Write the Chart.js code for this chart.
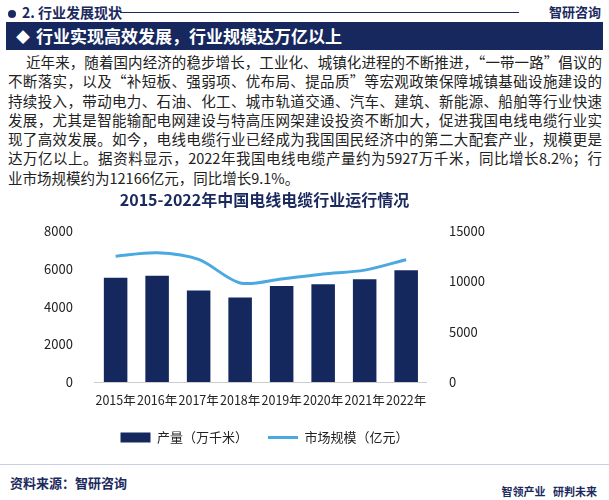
<!DOCTYPE html>
<html>
<head>
<meta charset="utf-8">
<script src="https://cdn.jsdelivr.net/npm/chart.js@4"></script>
<style>
  body { margin: 0; width: 609px; height: 500px; background: #fff; font-family: "Noto Sans CJK SC", sans-serif; position: relative; overflow: hidden; }
  .top { position: absolute; left: 8px; top: 2px; font-size: 14px; color: #1b2a5e; font-weight: bold; }
  .top:before { content: ''; display: inline-block; width: 8px; height: 8px; border-radius: 50%; background: #1b2a5e; margin-right: 6px; }
  .rule { position: absolute; left: 120px; right: 90px; top: 12px; border-top: 1px solid #1b2a5e; }
  .brand { position: absolute; right: 8px; top: 2px; font-size: 13px; color: #1b2a5e; font-weight: bold; }
  .bar { position: absolute; left: 6px; right: 6px; top: 22px; height: 28px; background: #16285e; color: #fff; font-size: 17px; font-weight: bold; line-height: 28px; padding-left: 30px; box-sizing: border-box; }
  .bar:before { content: '◆'; position: absolute; left: 10px; font-size: 14px; }
  .text { position: absolute; left: 8px; width: 594px; top: 52px; font-size: 14.5px; line-height: 19.3px; color: #222; }
  .text div { text-align: justify; text-align-last: justify; white-space: nowrap; }
  .text div.last { text-align-last: left; }
  .chart { position: absolute; left: 0; top: 188px; width: 609px; height: 266px; }
  .foot { position: absolute; left: 0; right: 0; top: 464px; height: 36px; border-top: 1px solid #c8cfe0; }
  .src { position: absolute; left: 10px; top: 8px; font-size: 13px; font-weight: bold; color: #1b2a5e; }
  .logos { position: absolute; right: 12px; top: 18px; font-size: 11px; color: #1b2a5e; font-weight: bold; }
</style>
</head>
<body>
<div class="top">2. 行业发展现状</div>
<div class="rule"></div>
<div class="brand">智研咨询</div>
<div class="bar">行业实现高效发展，行业规模达万亿以上</div>
<div class="text">
  <div style="padding-left:18px">近年来，随着国内经济的稳步增长，工业化、城镇化进程的不断推进，“一带一路”倡议的</div>
  <div>不断落实，以及“补短板、强弱项、优布局、提品质”等宏观政策保障城镇基础设施建设的</div>
  <div>持续投入，带动电力、石油、化工、城市轨道交通、汽车、建筑、新能源、船舶等行业快速</div>
  <div>发展，尤其是智能输配电网建设与特高压网架建设投资不断加大，促进我国电线电缆行业实</div>
  <div>现了高效发展。如今，电线电缆行业已经成为我国国民经济中的第二大配套产业，规模更是</div>
  <div>达万亿以上。据资料显示，2022年我国电线电缆产量约为5927万千米，同比增长8.2%；行</div>
  <div class="last">业市场规模约为12166亿元，同比增长9.1%。</div>
</div>
<div class="chart"><canvas id="c"></canvas></div>
<div class="foot">
  <div class="src">资料来源：智研咨询</div>
  <div class="logos">智领产业 &nbsp; 研判未来</div>
</div>
<script>
const years = ['2015年', '2016年', '2017年', '2018年', '2019年', '2020年', '2021年', '2022年'];
const output = [5530, 5640, 4860, 4480, 5090, 5180, 5450, 5927];
const marketSize = [12520, 12850, 12190, 9850, 10240, 10740, 11130, 12166];

const font = { family: '"Noto Sans CJK SC", sans-serif', size: 13 };

new Chart(document.getElementById('c'), {
  data: {
    labels: years,
    datasets: [
      {
        type: 'line', label: '市场规模（亿元）', data: marketSize, yAxisID: 'y1',
        borderColor: '#4aa9e0', backgroundColor: '#4aa9e0', borderWidth: 3,
        pointRadius: 0, pointStyle: 'line', tension: 0.3, order: 0,
      },
      {
        type: 'bar', label: '产量（万千米）', data: output, yAxisID: 'y',
        backgroundColor: '#14285e', categoryPercentage: 0.9, barPercentage: 0.63, order: 1,
      },
    ],
  },
  options: {
    responsive: true, maintainAspectRatio: false, animation: false,
    layout: { padding: { left: 30, right: 110, top: 0 } },
    plugins: {
      title: { display: true, text: '2015-2022年中国电线电缆行业运行情况', color: '#1b2a5e', font: { ...font, size: 16, weight: 'bold' }, padding: { top: 2, bottom: 22 } },
      legend: {
        position: 'bottom', reverse: true,
        labels: {
          color: '#222', font: font, padding: 20,
          generateLabels: (chart) => Chart.defaults.plugins.legend.labels.generateLabels(chart).map((l) => {
            if (chart.data.datasets[l.datasetIndex].type === 'line') {
              l.pointStyle = 'line'; l.lineWidth = 3; l.strokeStyle = '#4aa9e0';
            } else {
              l.pointStyle = 'rect';
            }
            return l;
          }),
          usePointStyle: true, pointStyleWidth: 30, boxHeight: 10,
        },
      },
    },
    scales: {
      x: { grid: { display: false }, border: { color: '#ccc' }, ticks: { color: '#222', font: { ...font, size: 12.5 }, maxRotation: 0, autoSkip: false } },
      y: { min: 0, max: 8000, ticks: { stepSize: 2000, color: '#222', font: font, padding: 14, callback: (v) => String(v) }, grid: { display: false }, border: { display: false } },
      y1: { position: 'right', min: 0, max: 15000, ticks: { stepSize: 5000, color: '#222', font: font, padding: 14, callback: (v) => String(v) }, grid: { display: false }, border: { display: false } },
    },
  },
});
</script>
</body>
</html>
